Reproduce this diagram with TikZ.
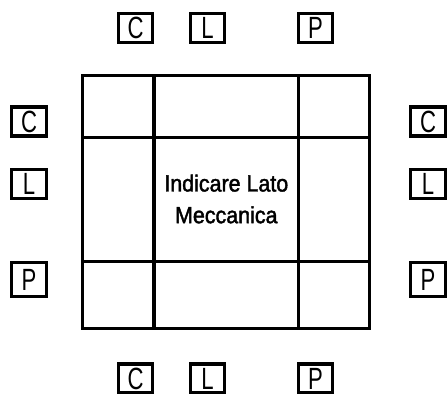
\documentclass[tikz,border=0pt]{standalone}
\usepackage{fontspec}
\setmainfont{Liberation Sans}
\newfontfamily\lblfont[FakeStretch=0.72]{Liberation Sans}
\newfontfamily\midfont[FakeStretch=0.92,FakeBold=1.8]{Liberation Sans}
\begin{document}
\begin{tikzpicture}[x=1pt,y=-1pt,
  lbl/.style={draw,line width=3.2pt,inner sep=0pt,minimum width=34pt,minimum height=29pt,
    font=\lblfont\fontsize{30.7}{30.7}\selectfont},
  tallbox/.style={minimum width=35pt,minimum height=34pt},
  gridline/.style={line width=3.2pt}]
\useasboundingbox (0,0) rectangle (448,394);
% grid
\draw[gridline] (82.5,75.5) rectangle (369.5,328.2);
\draw[gridline] (154,75.5) -- (154,328.2);
\draw[gridline] (298.5,75.5) -- (298.5,328.2);
\draw[gridline] (82.5,137.3) -- (369.5,137.3);
\draw[gridline] (82.5,261.5) -- (369.5,261.5);
\node[align=center,font=\midfont\fontsize{23.3}{31.7}\selectfont] (mid) at (226.3,199) {Indicare Lato\\Meccanica};
% top labels
\node[lbl] (tc) at (135.5,28) {C};
\node[lbl] (tl) at (207.5,28) {L};
\node[lbl] (tp) at (315.5,28) {P};
% bottom labels
\node[lbl] (bc) at (135.5,378.5) {C};
\node[lbl] (bl) at (207.5,378.5) {L};
\node[lbl] (bp) at (315.5,378.5) {P};
% left labels
\node[lbl,minimum width=35pt] (lc) at (29,121.5) {C};
\node[lbl,minimum width=35pt] (ll) at (29,184) {L};
\node[lbl,tallbox] (lp) at (29,279.5) {P};
% right labels
\node[lbl,minimum width=35pt] (rc) at (428,121.5) {C};
\node[lbl,minimum width=35pt] (rl) at (428,184) {L};
\node[lbl,tallbox] (rp) at (428,279.5) {P};
\end{tikzpicture}
\end{document}
